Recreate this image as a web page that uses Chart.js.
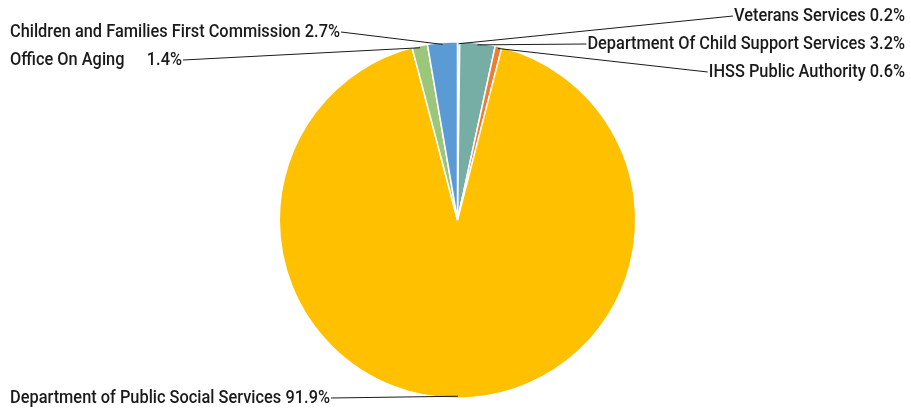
<!DOCTYPE html>
<html>
<head>
<meta charset="utf-8">
<script src="https://cdn.jsdelivr.net/npm/chart.js@4/dist/chart.umd.min.js"></script>
<style>
  html, body { margin: 0; padding: 0; background: #fff; }
  #wrap { width: 911px; height: 413px; }
</style>
</head>
<body>
<div id="wrap"><canvas id="chart" width="911" height="413"></canvas></div>
<script>
// slices, clockwise from 12 o'clock
const departments = [
    'Veterans Services',
    'Department Of Child Support Services',
    'IHSS Public Authority',
    'Department of Public Social Services',
    'Office On Aging',
    'Children and Families First Commission'
];
const shares = [0.2, 3.2, 0.6, 91.9, 1.4, 2.7];
const sliceColors = ['#c5d5e6', '#76aea6', '#ed7d31', '#ffc000', '#9cc67a', '#5b9bd5'];

// where each label sits (side, middle y, x where the % ends for left labels)
const labelSpots = [
    { side: 'right', y: 16 },
    { side: 'right', y: 44 },
    { side: 'right', y: 72 },
    { side: 'left',  y: 398, end: 330 },
    { side: 'left',  y: 60,  end: 182 },
    { side: 'left',  y: 32,  end: 340 }
];

const FONT = '500 19px Roboto, "Noto Sans", sans-serif';

// the original uses a condensed face; squeeze a regular one to the same width
function squeeze(ctx) {
    return 330 / ctx.measureText('Children and Families First Commission 2.7%').width;
}

function drawText(ctx, txt, x, y, align, k) {
    ctx.save();
    ctx.translate(x, y);
    ctx.scale(k, 1);
    ctx.textAlign = align;
    ctx.fillText(txt, 0, 0);
    ctx.restore();
    return ctx.measureText(txt).width * k;
}

const leaderLabels = {
    id: 'leaderLabels',
    afterDatasetsDraw(chart) {
        const ctx = chart.ctx;
        const meta = chart.getDatasetMeta(0);
        ctx.save();
        ctx.font = FONT;
        ctx.textBaseline = 'middle';
        ctx.fillStyle = '#1a1a1a';
        ctx.strokeStyle = '#1a1a1a';
        ctx.lineWidth = 1;
        const k = squeeze(ctx);
        meta.data.forEach((arc, i) => {
            const p = arc.getProps(['x', 'y', 'startAngle', 'endAngle', 'outerRadius'], true);
            const mid = (p.startAngle + p.endAngle) / 2;
            const r = p.outerRadius - 2;
            const ex = p.x + Math.cos(mid) * r;
            const ey = p.y + Math.sin(mid) * r;
            const spot = labelSpots[i];
            const pct = shares[i].toFixed(1) + '%';
            let sx;
            if (spot.side === 'right') {
                const w = drawText(ctx, departments[i] + ' ' + pct, 905, spot.y, 'right', k);
                sx = 905 - w - 1;
            } else {
                drawText(ctx, departments[i], 10, spot.y, 'left', k);
                drawText(ctx, pct, spot.end, spot.y, 'right', k);
                sx = spot.end + 1;
            }
            ctx.beginPath();
            ctx.moveTo(sx, spot.y);
            ctx.lineTo(ex, ey);
            ctx.stroke();
        });
        ctx.restore();
    }
};

new Chart(document.getElementById('chart').getContext('2d'), {
    type: 'pie',
    data: {
        labels: departments,
        datasets: [{
            data: shares,
            backgroundColor: sliceColors,
            borderColor: '#ffffff',
            borderWidth: 1.5
        }]
    },
    options: {
        responsive: false,
        animation: false,
        layout: { padding: { top: 41, bottom: 14, left: 4, right: 0 } },
        plugins: {
            legend: { display: false },
            tooltip: { enabled: false }
        }
    },
    plugins: [leaderLabels]
});
</script>
</body>
</html>
